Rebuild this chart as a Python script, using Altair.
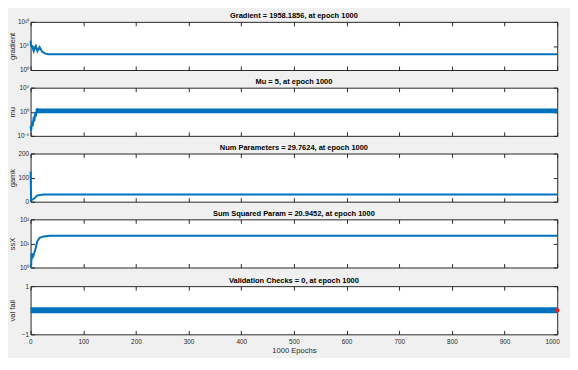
import altair as alt
import pandas as pd

# ---------------- data ----------------
x_ticks = [0, 100, 200, 300, 400, 500, 600, 700, 800, 900, 1000]

grad_epoch = [0, 1, 3, 6, 10, 13, 17, 22, 28, 34, 1000]
grad_value = [1.3e6, 1.0e5, 1.0e5, 8.0e3, 1.0e5, 8.0e3, 5.6e4, 6.0e3, 2.5e3, 1960, 1958.1856]

mu_epoch = [0, 1, 2, 3, 4, 5, 6, 7, 8, 9, 10, 11, 12, 13, 14]
mu_value = [1e-3, 1e-4, 1e-3, 1e-2, 1e-3, 1e-2, 1e-1, 1e-2, 1e-1, 1.0, 1e-1, 1.0, 5.0, 0.5, 5.0]
mu_band_epoch = [13, 1000]
mu_band_low = [0.5, 0.5]
mu_band_high = [5.0, 5.0]

gamk_epoch = [0, 1, 3, 8, 12, 18, 25, 1000]
gamk_value = [125, 5, 8, 15, 25, 28, 29.7, 29.7624]

ssx_epoch = [0, 1, 2, 3, 5, 9, 12.5, 17, 25, 37, 1000]
ssx_value = [1, 1, 4, 2.5, 3, 5.6, 12, 17, 19.5, 20.9, 20.9452]

val_epoch = [0, 1000]
val_value = [0, 0]
best_epoch = [1000]
best_value = [0]

titles = [
    "Gradient = 1958.1856, at epoch 1000",
    "Mu = 5, at epoch 1000",
    "Num Parameters = 29.7624, at epoch 1000",
    "Sum Squared Param = 20.9452, at epoch 1000",
    "Validation Checks = 0, at epoch 1000",
]
ytitles = ["gradient", "mu", "gamk", "ssX", "val fail"]

# ---------------- styling ----------------
FONT = "Liberation Sans"
BLUE = "#0072BD"
INK = "#262626"
W = 536
H = 49
SUP = {"0": "⁰", "1": "¹", "2": "²", "5": "⁵", "-": "⁻"}


def sup(k):
    return "10" + "".join(SUP[c] for c in str(k))


def log_label_expr(exps):
    expr = "''"
    for k in reversed(exps):
        expr = f"abs(log(datum.value)/LN10 - ({k})) < 0.01 ? '{sup(k)}' : " + expr
    return expr


XSCALE = alt.Scale(domain=[0, 1000], nice=False, zero=False)


def x_enc(show_labels):
    kw = dict(orient="bottom", values=x_ticks, domain=False, grid=False,
              tickSize=4, offset=-4, tickColor=INK, labels=show_labels, format="d",
              labelFlush=True, labelFlushOffset=2, labelPadding=4, labelFontSize=6.5,
              labelFont=FONT, labelColor=INK, titleFontSize=7.7, titleFont=FONT,
              titleFontWeight="normal", titleColor=INK, titlePadding=2, minExtent=0)
    kw["title"] = "1000 Epochs" if show_labels else None
    if not show_labels:
        kw["maxExtent"] = 0
    return alt.X("epoch:Q", scale=XSCALE, axis=alt.Axis(**kw))


def y_enc(field, scale, values, ytitle, label_expr=None):
    kw = dict(orient="left", values=values, domain=False, grid=False,
              tickSize=4, offset=-4, tickColor=INK, labelPadding=2,
              labelFlush=False, labelFontSize=6.5, labelFont=FONT, labelColor=INK,
              title=ytitle, titleFontSize=7.7, titleFont=FONT,
              titleFontWeight="normal", titleColor=INK, titlePadding=0,
              minExtent=18, maxExtent=18)
    if label_expr:
        kw["labelExpr"] = label_expr
    else:
        kw["format"] = "d"
    return alt.Y(f"{field}:Q", scale=scale, axis=alt.Axis(**kw))


def frame_layer(df, field, scale, values):
    return alt.Chart(df).mark_point(opacity=0, size=1).encode(
        x=alt.X("epoch:Q", scale=XSCALE,
                axis=alt.Axis(orient="top", values=x_ticks, domain=False, grid=False,
                              labels=False, tickSize=4, offset=-4, tickColor=INK,
                              title=None, minExtent=0, maxExtent=0)),
        y=alt.Y(f"{field}:Q", scale=scale,
                axis=alt.Axis(orient="right", values=values, domain=False, grid=False,
                              labels=False, tickSize=4, offset=-4, tickColor=INK,
                              title=None, minExtent=0, maxExtent=0)),
    )


def title_p(t):
    return alt.TitleParams(text=t, fontSize=7.6, fontWeight="bold", font=FONT,
                           color="black", offset=-1, anchor="middle")


def panel(i, layers):
    return alt.layer(*layers).resolve_axis(x="independent", y="independent").properties(
        width=W, height=H, title=title_p(titles[i]))


panels = []

# 1. gradient
df = pd.DataFrame({"epoch": grad_epoch, "v": grad_value})
sc = alt.Scale(type="log", domain=[1, 1e10], nice=False)
vals = [1, 1e5, 1e10]
panels.append(panel(0, [
    alt.Chart(df).mark_line(color=BLUE, strokeWidth=2).encode(
        x=x_enc(False), y=y_enc("v", sc, vals, ytitles[0], log_label_expr([0, 5, 10]))),
    frame_layer(df, "v", sc, vals),
]))

# 2. mu
df = pd.DataFrame({"epoch": mu_epoch, "v": mu_value})
dfb = pd.DataFrame({"epoch": mu_band_epoch, "lo": mu_band_low, "hi": mu_band_high})
sc = alt.Scale(type="log", domain=[1e-5, 1e5], nice=False)
vals = [1e-5, 1, 1e5]
panels.append(panel(1, [
    alt.Chart(df).mark_line(color=BLUE, strokeWidth=2).encode(
        x=x_enc(False), y=y_enc("v", sc, vals, ytitles[1], log_label_expr([-5, 0, 5]))),
    alt.Chart(dfb).mark_area(color=BLUE, opacity=1).encode(
        x=alt.X("epoch:Q", scale=XSCALE, axis=None),
        y=alt.Y("lo:Q", scale=sc, axis=None), y2="hi:Q"),
    frame_layer(df, "v", sc, vals),
]))

# 3. gamk
df = pd.DataFrame({"epoch": gamk_epoch, "v": gamk_value})
sc = alt.Scale(domain=[0, 200], nice=False)
vals = [0, 100, 200]
panels.append(panel(2, [
    alt.Chart(df).mark_line(color=BLUE, strokeWidth=2).encode(
        x=x_enc(False), y=y_enc("v", sc, vals, ytitles[2])),
    frame_layer(df, "v", sc, vals),
]))

# 4. ssX
df = pd.DataFrame({"epoch": ssx_epoch, "v": ssx_value})
sc = alt.Scale(type="log", domain=[1, 100], nice=False)
vals = [1, 10, 100]
panels.append(panel(3, [
    alt.Chart(df).mark_line(color=BLUE, strokeWidth=2).encode(
        x=x_enc(False), y=y_enc("v", sc, vals, ytitles[3], log_label_expr([0, 1, 2]))),
    frame_layer(df, "v", sc, vals),
]))

# 5. val fail
df = pd.DataFrame({"epoch": val_epoch, "v": val_value})
dfr = pd.DataFrame({"epoch": best_epoch, "v": best_value})
sc = alt.Scale(domain=[-1, 1], nice=False)
vals = [-1, 0, 1]
panels.append(panel(4, [
    alt.Chart(df).mark_line(color=BLUE, strokeWidth=6).encode(
        x=x_enc(True), y=y_enc("v", sc, vals, ytitles[4])),
    alt.Chart(dfr).mark_point(filled=True, color="#d62728", size=22, opacity=1).encode(
        x=alt.X("epoch:Q", scale=XSCALE, axis=None),
        y=alt.Y("v:Q", scale=sc, axis=None)),
    frame_layer(df, "v", sc, vals),
]))

chart = alt.vconcat(*panels, spacing=3).properties(
    padding=0, background="#f0f0f0"
).configure_view(fill="white", stroke=INK, strokeWidth=1)

chart.save("out.html", embed_options={"renderer": "svg", "actions": False})
